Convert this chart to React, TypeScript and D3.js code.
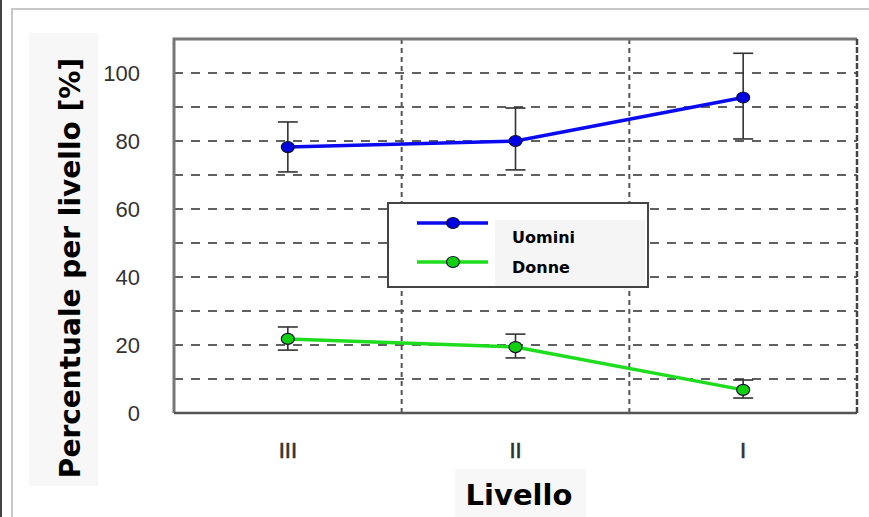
import { useRef, useEffect } from "react";
import * as d3 from "d3";

const levels = ["III", "II", "I"];
const uominiMean = [78.2, 80.0, 92.8];
const uominiLow = [70.9, 71.5, 80.6];
const uominiHigh = [85.6, 89.7, 105.8];
const donneMean = [21.8, 19.4, 6.8];
const donneLow = [18.5, 16.2, 4.4];
const donneHigh = [25.3, 23.2, 9.7];
const yTicks = [0, 20, 40, 60, 80, 100];
const gridValues = [10, 20, 30, 40, 50, 60, 70, 80, 90, 100];
const seriesNames = ["Uomini", "Donne"];

export default function App() {
  const svgRef = useRef<SVGSVGElement>(null);

  useEffect(() => {
    const svg = d3.select(svgRef.current);
    svg.selectAll("*").remove();

    const width = 869;
    const height = 517;
    const plotL = 174, plotR = 857, plotT = 39, plotB = 413;
    const comic = "'Comic Sans MS', 'DejaVu Sans', sans-serif";
    const helv = "'Liberation Sans', Arial, sans-serif";

    svg.attr("width", width).attr("height", height);
    svg.append("rect").attr("width", width).attr("height", height).attr("fill", "#fff");

    // outer frame
    svg.append("line").attr("x1", 1).attr("x2", 1).attr("y1", 0).attr("y2", height)
      .attr("stroke", "#444").attr("stroke-width", 2);
    svg.append("path").attr("d", `M12,${height} V9 H${width}`)
      .attr("fill", "none").attr("stroke", "#c8c8c8").attr("stroke-width", 2);

    const x = d3.scaleBand().domain(levels).range([plotL, plotR]);
    const y = d3.scaleLinear().domain([0, 110]).range([plotB, plotT]);
    const cx = (lv: string) => (x(lv) as number) + x.bandwidth() / 2;

    // horizontal grid
    svg.append("g").selectAll("line").data(gridValues).join("line")
      .attr("x1", plotL).attr("x2", plotR)
      .attr("y1", (d) => y(d)).attr("y2", (d) => y(d))
      .attr("stroke", "#606060").attr("stroke-width", 2).attr("stroke-dasharray", "9,8");

    // vertical grid between levels
    svg.append("g").selectAll("line").data(levels.slice(1)).join("line")
      .attr("x1", (d) => x(d) as number).attr("x2", (d) => x(d) as number)
      .attr("y1", plotT).attr("y2", plotB)
      .attr("stroke", "#555").attr("stroke-width", 2).attr("stroke-dasharray", "5,4");

    // plot border
    svg.append("path").attr("d", `M${plotL},${plotB} V${plotT} H${plotR}`)
      .attr("fill", "none").attr("stroke", "#777").attr("stroke-width", 3);
    svg.append("line").attr("x1", plotL).attr("x2", plotR).attr("y1", plotB).attr("y2", plotB)
      .attr("stroke", "#555").attr("stroke-width", 2.5);
    svg.append("line").attr("x1", plotR).attr("x2", plotR).attr("y1", plotT).attr("y2", plotB)
      .attr("stroke", "#444").attr("stroke-width", 2.5).attr("stroke-dasharray", "6,2");

    // y tick labels
    svg.append("g").selectAll("text").data(yTicks).join("text")
      .attr("x", 140).attr("y", (d) => y(d)).attr("dy", "0.36em")
      .attr("text-anchor", "end").attr("font-family", helv).attr("font-size", 22)
      .attr("fill", "#333").text((d) => d);

    // x tick labels
    svg.append("g").selectAll("text").data(levels).join("text")
      .attr("x", (d) => cx(d)).attr("y", 458)
      .attr("text-anchor", "middle").attr("font-family", helv).attr("font-size", 22)
      .attr("fill", "#333").attr("stroke", "#333").attr("stroke-width", 0.6).text((d) => d);

    // axis titles on light boxes
    svg.append("rect").attr("x", 29).attr("y", 33).attr("width", 69).attr("height", 453).attr("fill", "#f7f7f7");
    svg.append("text").attr("transform", "translate(80,268) rotate(-90)")
      .attr("text-anchor", "middle").attr("font-family", comic).attr("font-weight", "bold")
      .attr("font-size", 28).attr("fill", "#000").text("Percentuale per livello [%]");

    svg.append("rect").attr("x", 455).attr("y", 469).attr("width", 131).attr("height", 48).attr("fill", "#f7f7f7");
    svg.append("text").attr("x", 519).attr("y", 505)
      .attr("text-anchor", "middle").attr("font-family", comic).attr("font-weight", "bold")
      .attr("font-size", 29).attr("fill", "#000").text("Livello");

    const series = [
      { mean: uominiMean, low: uominiLow, high: uominiHigh, color: "#0a0af0", marker: "#0000e0" },
      { mean: donneMean, low: donneLow, high: donneHigh, color: "#1edc1e", marker: "#10d010" },
    ];

    const line = d3.line<number>().x((_, i) => cx(levels[i])).y((d) => y(d));

    series.forEach((s) => {
      const g = svg.append("g");
      // error bars
      levels.forEach((lv, i) => {
        const px = cx(lv);
        g.append("line").attr("x1", px).attr("x2", px).attr("y1", y(s.low[i])).attr("y2", y(s.high[i]))
          .attr("stroke", "#333").attr("stroke-width", 1.6);
        [s.low[i], s.high[i]].forEach((v) => {
          g.append("line").attr("x1", px - 10).attr("x2", px + 10).attr("y1", y(v)).attr("y2", y(v))
            .attr("stroke", "#333").attr("stroke-width", 1.6);
        });
      });
      g.append("path").attr("d", line(s.mean)).attr("fill", "none")
        .attr("stroke", s.color).attr("stroke-width", 3.5);
      g.selectAll("ellipse").data(s.mean).join("ellipse")
        .attr("cx", (_, i) => cx(levels[i])).attr("cy", (d) => y(d))
        .attr("rx", 6.5).attr("ry", 5.5)
        .attr("fill", s.marker).attr("stroke", "#113").attr("stroke-width", 1.2);
    });

    // legend
    const lg = svg.append("g");
    lg.append("rect").attr("x", 388).attr("y", 203).attr("width", 260).attr("height", 84)
      .attr("fill", "#fff").attr("stroke", "#444").attr("stroke-width", 2);
    series.forEach((s, i) => {
      const ly = 223 + i * 39;
      lg.append("line").attr("x1", 417).attr("x2", 488).attr("y1", ly).attr("y2", ly)
        .attr("stroke", s.color).attr("stroke-width", 3.5);
      lg.append("ellipse").attr("cx", 453).attr("cy", ly).attr("rx", 6.5).attr("ry", 5.5)
        .attr("fill", s.marker).attr("stroke", "#113").attr("stroke-width", 1.2);
    });
    lg.append("rect").attr("x", 495).attr("y", 220).attr("width", 150).attr("height", 66).attr("fill", "#f5f5f5");
    lg.selectAll("text").data(seriesNames).join("text")
      .attr("x", 512).attr("y", (_, i) => 243 + i * 30)
      .attr("font-family", comic).attr("font-weight", "bold").attr("font-size", 16)
      .attr("fill", "#000").text((d) => d);
  }, []);

  return <svg ref={svgRef} style={{ position: "absolute", left: 0, top: 0 }} />;
}
